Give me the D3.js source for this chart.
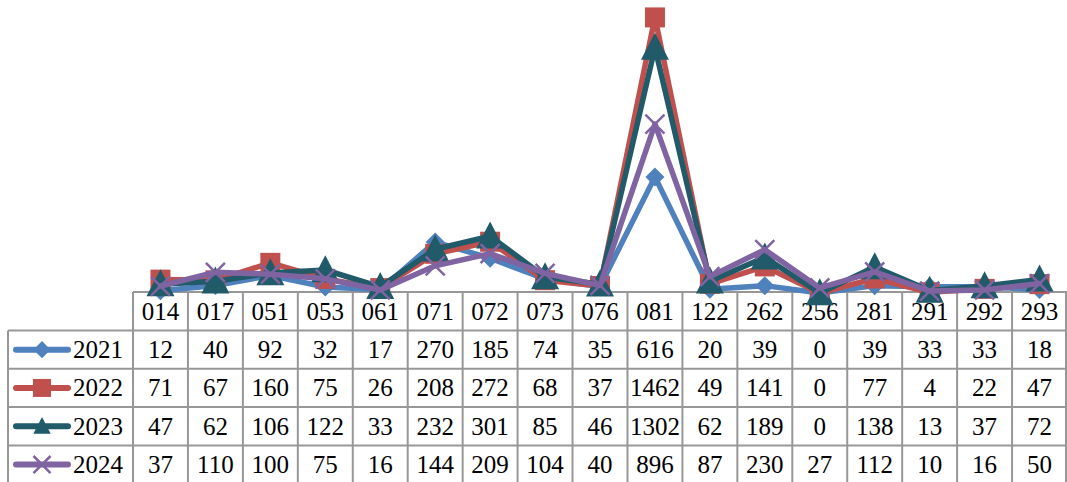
<!DOCTYPE html>
<html>
<head>
<meta charset="utf-8">
<script src="https://cdn.jsdelivr.net/npm/d3@7"></script>
</head>
<body style="margin:0">
<script>
const categories = ["014","017","051","053","061","071","072","073","076","081","122","262","256","281","291","292","293"];
const seriesNames = ["2021","2022","2023","2024"];
const s2021 = [12,40,92,32,17,270,185,74,35,616,20,39,0,39,33,33,18];
const s2022 = [71,67,160,75,26,208,272,68,37,1462,49,141,0,77,4,22,47];
const s2023 = [47,62,106,122,33,232,301,85,46,1302,62,189,0,138,13,37,72];
const s2024 = [37,110,100,75,16,144,209,104,40,896,87,230,27,112,10,16,50];
const seriesValues = [s2021, s2022, s2023, s2024];
const colors = ["#4F81BD","#C0504D","#215A69","#8064A2"];
const markers = ["diamond","square","triangle","x"];

const W = 1067, H = 482;
const FONT = '"Liberation Serif"';
const svg = d3.select("body").append("svg").attr("width", W).attr("height", H).style("display", "block");

const plotLeft = 133, plotRight = 1067, baseY = 293;
const x = d3.scaleBand().domain(categories).range([plotLeft, plotRight]);
const y = d3.scaleLinear().domain([0, 1600]).range([baseY, baseY - 1600 * 0.1885]);

const rowH = 38.3;
const headerTop = 292, headerBot = 330.5;
const legLeft = 8;
const gridColor = "#979797";

function addText(parent, str, tx, ty, anchor) {
  const t = parent.append("text").attr("x", tx).attr("y", ty + 8.5)
    .style("font-family", FONT).style("font-size", "25px")
    .text(str);
  if (anchor) t.attr("text-anchor", anchor);
  return t;
}

// table grid
const grid = svg.append("g").attr("stroke", gridColor).attr("stroke-width", 2).attr("fill", "none");
grid.append("line").attr("x1", plotLeft).attr("x2", plotRight).attr("y1", headerTop).attr("y2", headerTop);
for (let i = 0; i <= 4; i++) {
  const yy = headerBot + i * rowH;
  grid.append("line").attr("x1", legLeft).attr("x2", plotRight).attr("y1", yy).attr("y2", yy);
}
const tableBottom = headerBot + 4 * rowH;
grid.append("line").attr("x1", legLeft).attr("x2", legLeft).attr("y1", headerBot).attr("y2", tableBottom);
categories.forEach((c) => {
  const xx = x(c);
  grid.append("line").attr("x1", xx).attr("x2", xx).attr("y1", headerTop).attr("y2", tableBottom);
});
grid.append("line").attr("x1", plotRight - 1).attr("x2", plotRight - 1).attr("y1", headerTop).attr("y2", tableBottom);

// header labels
const hdr = svg.append("g");
categories.forEach(c => addText(hdr, c, x(c) + x.bandwidth() / 2, (headerTop + headerBot) / 2, "middle"));

// data cells
seriesValues.forEach((vals, si) => {
  const cy = headerBot + si * rowH + rowH / 2;
  const g = svg.append("g");
  vals.forEach((v, i) => addText(g, String(v), x(categories[i]) + x.bandwidth() / 2, cy, "middle"));
});

function drawMarker(g, type, cx, cy, color, s) {
  if (type === "diamond") {
    const r = 9.5 * s;
    g.append("path").attr("d", `M${cx},${cy - r}L${cx + r},${cy}L${cx},${cy + r}L${cx - r},${cy}Z`).attr("fill", color);
  } else if (type === "square") {
    const r = 10 * s;
    g.append("rect").attr("x", cx - r).attr("y", cy - r).attr("width", 2 * r).attr("height", 2 * r).attr("fill", color);
  } else if (type === "triangle") {
    const w = 14 * s, h = 27 * s;
    g.append("path").attr("d", `M${cx},${cy - h * 0.55}L${cx + w},${cy + h * 0.45}L${cx - w},${cy + h * 0.45}Z`).attr("fill", color);
  } else if (type === "x") {
    const r = 9.5 * s;
    g.append("path").attr("d", `M${cx - r},${cy - r}L${cx + r},${cy + r}M${cx - r},${cy + r}L${cx + r},${cy - r}`)
      .attr("stroke", color).attr("stroke-width", 2.5).attr("fill", "none");
  }
}

// lines
const line = d3.line().x((d, i) => x(categories[i]) + x.bandwidth() / 2).y(d => y(d));
seriesValues.forEach((vals, si) => {
  const g = svg.append("g");
  g.append("path").attr("d", line(vals)).attr("fill", "none")
    .attr("stroke", colors[si]).attr("stroke-width", 5.5)
    .attr("stroke-linejoin", "round").attr("stroke-linecap", "round");
  vals.forEach((v, i) => {
    drawMarker(g, markers[si], x(categories[i]) + x.bandwidth() / 2, y(v), colors[si], 1);
  });
});

// legend column
seriesNames.forEach((name, si) => {
  const cy = headerBot + si * rowH + rowH / 2;
  const g = svg.append("g");
  g.append("line").attr("x1", 16).attr("x2", 68).attr("y1", cy).attr("y2", cy)
    .attr("stroke", colors[si]).attr("stroke-width", 6).attr("stroke-linecap", "round");
  drawMarker(g, markers[si], 42, cy, colors[si], markers[si] === "triangle" ? 0.62 : 0.9);
  addText(g, name, 73, cy, null);
});
</script>
</body>
</html>
